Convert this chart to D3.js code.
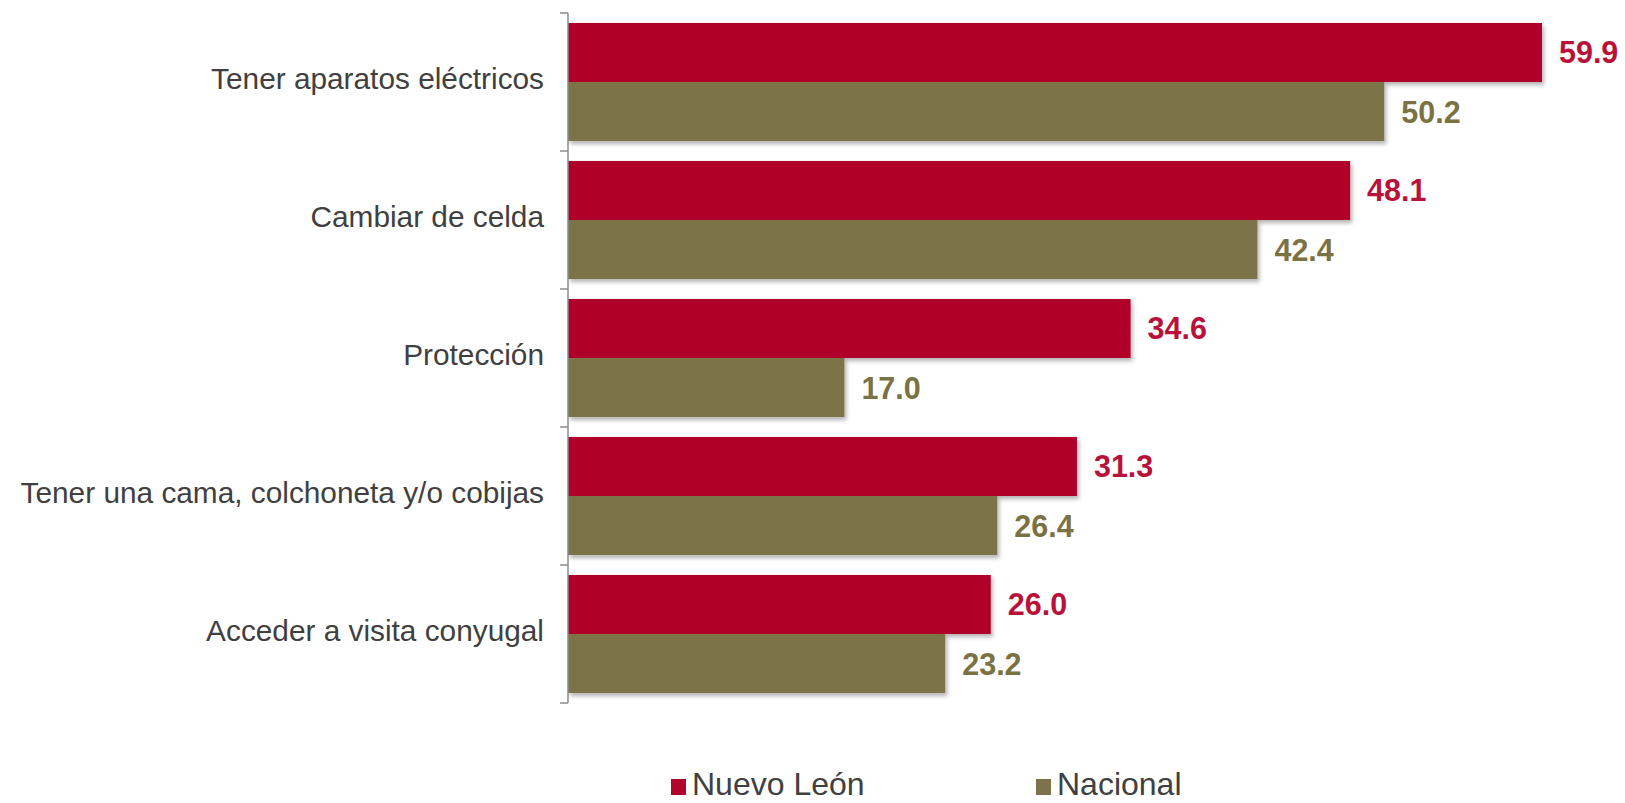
<!DOCTYPE html>
<html>
<head>
<meta charset="utf-8">
<script src="https://cdn.jsdelivr.net/npm/d3@7"></script>
<style>
html,body{margin:0;padding:0;background:#fff;}
svg{display:block;font-family:"Liberation Sans",Arial,sans-serif;}
</style>
</head>
<body>
<svg id="chart" width="1625" height="803"></svg>
<script>
const categories = ["Tener aparatos eléctricos","Cambiar de celda","Protección","Tener una cama, colchoneta y/o cobijas","Acceder a visita conyugal"];
const seriesNames = ["Nuevo León","Nacional"];
const nuevoLeon = [59.9, 48.1, 34.6, 31.3, 26.0];
const nacional = [50.2, 42.4, 17.0, 26.4, 23.2];
const barColors = ["#B0062C","#7D734A"];
const labelColors = ["#B8123A","#7A7242"];

const svg = d3.select("#chart");
const defs = svg.append("defs");
const f = defs.append("filter").attr("id","sh").attr("x","-5%").attr("y","-20%").attr("width","110%").attr("height","160%");
f.append("feDropShadow").attr("dx",2).attr("dy",3).attr("stdDeviation",2).attr("flood-color","#000").attr("flood-opacity",0.3);

const x = d3.scaleLinear().domain([0,60]).range([568,1543.6]);
const y0 = d3.scaleBand().domain(categories).range([13,703]).padding(0);
const y1 = d3.scaleBand().domain(seriesNames).range([0,y0.bandwidth()]).paddingInner(0).paddingOuter(0.169);

const data = categories.map((c,i)=>({cat:c, vals:[nuevoLeon[i], nacional[i]]}));

const g = svg.append("g");
data.forEach(d=>{
  d.vals.forEach((v,si)=>{
    const yy = y0(d.cat)+y1(seriesNames[si]);
    g.append("rect")
      .attr("x",x(0)).attr("y",yy)
      .attr("width",x(v)-x(0)).attr("height",y1.bandwidth())
      .attr("fill",barColors[si]).attr("filter","url(#sh)");
    g.append("text")
      .attr("x",x(v)+17).attr("y",yy+y1.bandwidth()/2+11)
      .attr("font-size","30.5px").attr("font-weight","bold")
      .attr("fill",labelColors[si]).text(v.toFixed(1));
  });
});

// axis
const ax = svg.append("g");
ax.append("line").attr("x1",x(0)).attr("x2",x(0)).attr("y1",y0.range()[0]).attr("y2",y0.range()[1])
  .attr("stroke","#8c8c8c").attr("stroke-width",1.5);
const tickPos = categories.map(c=>y0(c)).concat([y0.range()[1]]);
tickPos.forEach(t=>{
  ax.append("line").attr("x1",x(0)-8).attr("x2",x(0)).attr("y1",t).attr("y2",t)
    .attr("stroke","#8c8c8c").attr("stroke-width",1.5);
});
categories.forEach(c=>{
  ax.append("text").attr("x",544).attr("y",y0(c)+y0.bandwidth()/2+7)
    .attr("text-anchor","end").attr("font-size","29.8px").attr("fill","#404040").text(c);
});

// legend
const legX = [671,1036];
seriesNames.forEach((s,i)=>{
  svg.append("rect").attr("x",legX[i]).attr("y",779).attr("width",15).attr("height",16).attr("fill",barColors[i]);
  svg.append("text").attr("x",legX[i]+21).attr("y",795).attr("font-size","32px").attr("fill","#404040").text(s);
});
</script>
</body>
</html>
